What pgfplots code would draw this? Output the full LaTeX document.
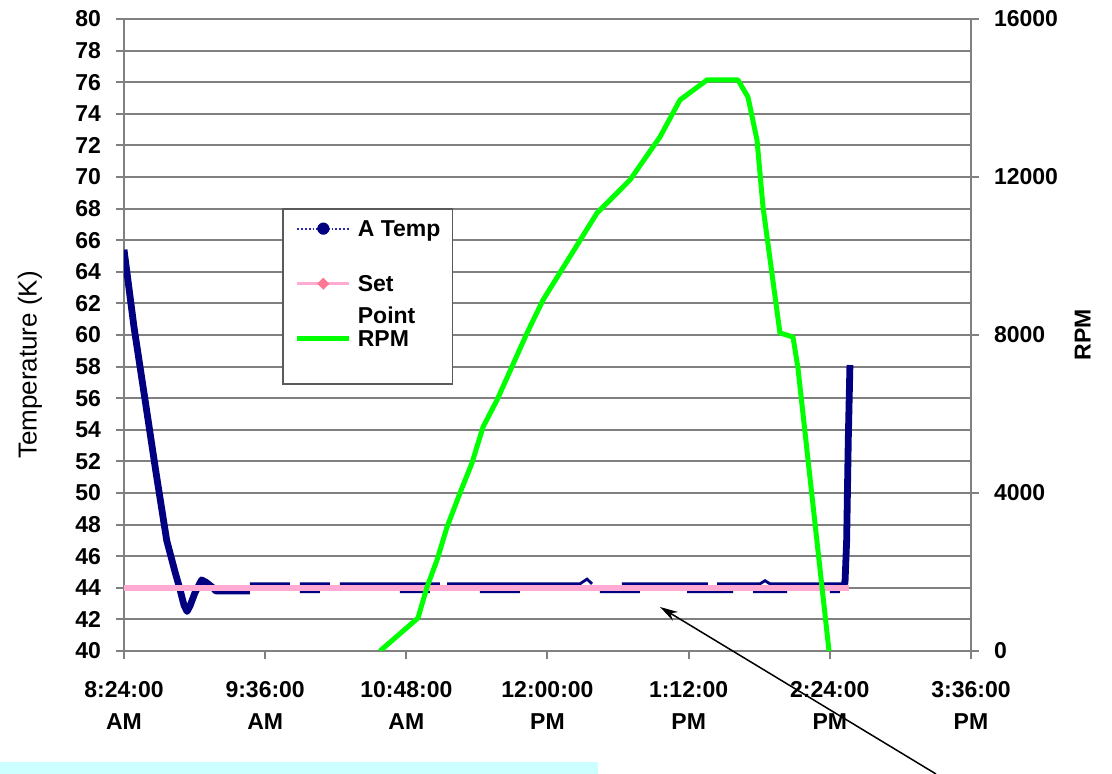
\documentclass[border=0pt]{standalone}
\usepackage{pgfplots}
\pgfplotsset{compat=1.18}
\usepackage{fontspec}
\setmainfont{Liberation Sans}
\usetikzlibrary{arrows.meta}
\definecolor{navyT}{RGB}{0,0,128}
\definecolor{navyL}{RGB}{40,40,170}
\definecolor{pinkSP}{RGB}{255,170,210}
\definecolor{greenR}{RGB}{0,255,0}
\definecolor{gridg}{RGB}{128,128,128}
\definecolor{legg}{RGB}{90,90,90}
\definecolor{cyanbar}{RGB}{204,255,255}
\begin{document}
\begin{tikzpicture}[x=1pt,y=1pt]
\path[use as bounding box] (0,0) rectangle (556,387);
\fill[cyanbar] (0,0) rectangle (299,6);
\begin{axis}[
  at={(62pt,61.5pt)}, anchor=south west,
  scale only axis, width=423.5pt, height=316pt,
  xmin=8.4, xmax=15.6, ymin=40, ymax=80,
  xtick={8.4,9.6,10.8,12.0,13.2,14.4,15.6},
  xticklabels={8:24:00\\AM, 9:36:00\\AM, 10:48:00\\AM, 12:00:00\\PM, 1:12:00\\PM, 2:24:00\\PM, 3:36:00\\PM},
  ytick={40,42,...,80},
  tick pos=left,
  ymajorgrids, grid style={gridg, line width=1pt},
  axis line style={gridg, line width=1pt},
  tick style={gridg, line width=1pt},
  tick align=outside, major tick length=4pt,
  ticklabel style={font=\fontsize{11.5}{16}\selectfont\bfseries},
  /pgf/number format/assume math mode=true,
  yticklabel style={xshift=-4pt},
  xticklabel style={align=center, yshift=-7.5pt},
  ylabel={Temperature (K)},
  ylabel style={font=\fontsize{13}{15}\selectfont, at={(axis description cs:-0.111,0.4525)}, anchor=center, rotate=0},
  legend cell align=left,
  legend style={at={(axis description cs:0.1865,0.701)}, anchor=north west,
    draw=legg, line width=0.9pt, fill=white,
    font=\fontsize{11.5}{16}\selectfont\bfseries,
    inner xsep=6pt, inner ysep=5.75pt,
    row sep=19.2pt, column sep=3pt,
    cells={anchor=west},
    nodes={inner sep=0pt, text height=8.3pt, text depth=0pt}},
]
% A Temp: main trace
\addplot[navyT, line width=3.4pt, line join=round, unbounded coords=jump,
  legend image code/.code={\draw[navyL, densely dotted, line width=0.9pt] (0pt,0pt) -- (26pt,0pt); \fill[navyT] (13pt,0pt) circle (1.4pt);}]
coordinates {
(8.400,65.4) (8.485,60.5) (8.579,55.9) (8.672,51.3) (8.763,47.0) (8.834,45.0)
(8.876,43.9) (8.910,42.9) (8.936,42.5) (8.961,42.85) (9.004,43.7) (9.060,44.5)
(9.097,44.35) (9.157,44.0) (9.18,43.8) (9.471,43.8) (9.5,nan)
(14.512,44.2) (14.529,44.3) (14.543,47.0) (14.557,53.4) (14.571,58.1)
};
\addlegendentry{A Temp}
% A Temp: flat section (upper and lower edges of the noisy band)
\addplot[navyT, line width=1.4pt, unbounded coords=jump, forget plot]
coordinates {
(9.471,44.25) (9.811,44.25) (9.85,nan)
(9.896,44.25) (10.151,44.25) (10.2,nan)
(10.236,44.25) (11.086,44.25) (11.1,nan)
(11.146,44.25) (12.276,44.25) (12.336,44.55) (12.378,44.25) (12.4,nan)
(12.633,44.25) (13.364,44.25) (13.4,nan)
(13.441,44.25) (13.806,44.25) (13.849,44.45) (13.891,44.25) (14.512,44.25) (14.52,nan)
(9.896,43.75) (10.066,43.75) (10.1,nan)
(10.746,43.75) (11.001,43.75) (11.05,nan)
(11.426,43.75) (11.766,43.75) (11.8,nan)
(12.446,43.75) (12.786,43.75) (12.8,nan)
(13.186,43.75) (13.577,43.75) (13.6,nan)
(13.747,43.75) (14.036,43.75) (14.1,nan)
(14.401,43.75) (14.486,43.75)
};
% Set Point
\addplot[pinkSP, line width=3pt,
  legend image code/.code={\draw[pinkSP, line width=1.2pt] (0pt,0pt) -- (26pt,0pt); \fill[pinkSP!70!red] (13pt,0pt) circle (0.9pt);}]
coordinates {(8.4,44) (14.565,44)};
\addlegendentry{\begin{tabular}[t]{@{}l@{}}Set\\Point\end{tabular}}
\addlegendimage{legend image code/.code={\draw[greenR, line width=2.5pt] (0pt,4.15pt) -- (26pt,4.15pt);}}
\addlegendentry[anchor=base west, text depth=12.75pt]{RPM}
\end{axis}
\begin{axis}[
  at={(62pt,61.5pt)}, anchor=south west,
  scale only axis, width=423.5pt, height=316pt,
  xmin=8.4, xmax=15.6, ymin=0, ymax=16000,
  axis x line=none, axis y line*=right,
  ytick={0,4000,...,16000}, scaled y ticks=false,
  axis line style={gridg, line width=1pt},
  tick style={gridg, line width=1pt},
  tick align=outside, major tick length=4pt,
  ticklabel style={font=\fontsize{11.5}{16}\selectfont\bfseries},
  /pgf/number format/assume math mode=true,
  yticklabel style={xshift=4pt, /pgf/number format/1000 sep={}},
  ylabel={RPM},
  ylabel style={font=\fontsize{11.5}{14}\selectfont\bfseries, at={(axis description cs:1.132,0.5)}, anchor=center, rotate=0},
]
\addplot[greenR, line width=2.5pt, line join=round] coordinates {
(10.576,0) (10.899,835) (10.976,1620) (11.061,2304) (11.146,3139) (11.256,4000)
(11.358,4759) (11.452,5671) (11.571,6354) (11.826,8051) (11.962,8886) (12.421,11089)
(12.701,11924) (12.956,13013) (13.126,13949) (13.356,14456) (13.619,14456) (13.704,14025)
(13.781,12937) (13.832,11241) (13.976,8051) (14.087,7949) (14.129,7165) (14.393,0)
};
\end{axis}
\draw[-{Stealth[length=9pt,width=5pt]}, line width=0.75pt] (468,0) -- (330,83.5);
\end{tikzpicture}
\end{document}
